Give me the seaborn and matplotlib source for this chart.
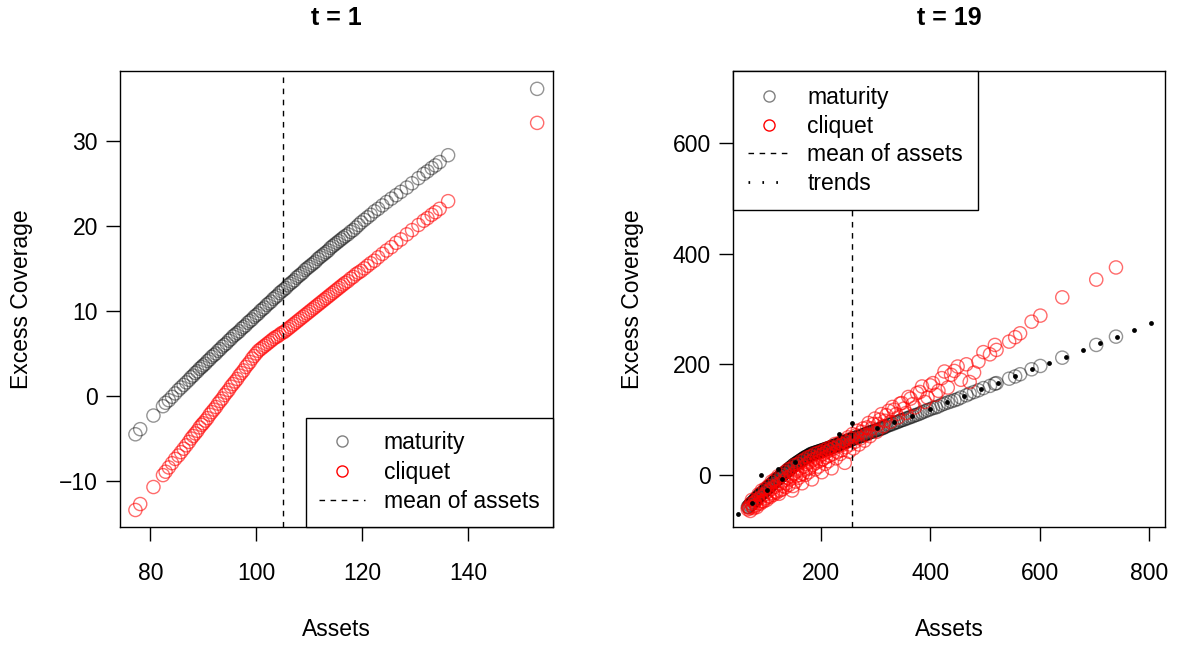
import matplotlib
matplotlib.use("Agg")
import matplotlib.pyplot as plt
from matplotlib.lines import Line2D
import seaborn as sns

# ---- t = 1 : assets and excess coverage ----
assets_t1 = [77.2, 78.1, 80.6, 82.4, 82.9, 83.5, 84.1, 84.7, 85.3, 85.8,
             86.3, 86.8, 87.3, 87.7, 88.1, 88.5, 88.9, 89.3, 89.7,
             90.0, 90.4, 90.8, 91.2, 91.6, 92.0, 92.4, 92.8, 93.2, 93.6,
             94.0, 94.4, 94.8, 95.2, 95.6, 96.0, 96.4, 96.8, 97.2, 97.6,
             98.0, 98.4, 98.8, 99.2, 99.6, 100.0, 100.4, 100.8, 101.2, 101.6,
             102.0, 102.4, 102.8, 103.2, 103.6, 104.0, 104.4, 104.8, 105.2, 105.6,
             106.0, 106.4, 106.8, 107.2, 107.6, 108.0, 108.4, 108.8, 109.2, 109.6,
             110.0, 110.4, 110.8, 111.2, 111.6, 112.0, 112.4, 112.8, 113.2, 113.6,
             114.0, 114.4, 114.8, 115.2, 115.6, 116.0, 116.4, 116.8,
             117.3, 117.8, 118.3, 118.8, 119.3, 119.8, 120.4, 121.0, 121.6, 122.3,
             123.0, 123.8, 124.6, 125.5, 126.4, 127.3, 128.4, 129.4, 130.6, 131.6,
             132.3, 133.1, 133.8, 134.6, 136.2, 153.0]
maturity_t1 = [-4.5, -3.9, -2.3, -1.2, -0.8, -0.5, -0.1, 0.3, 0.7, 1.0,
               1.3, 1.6, 1.9, 2.2, 2.4, 2.7, 2.9, 3.2, 3.4,
               3.6, 3.8, 4.1, 4.3, 4.6, 4.8, 5.0, 5.3, 5.5, 5.8,
               6.0, 6.2, 6.5, 6.7, 7.0, 7.2, 7.4, 7.6, 7.9, 8.1,
               8.3, 8.6, 8.8, 9.0, 9.3, 9.5, 9.7, 10.0, 10.2, 10.4,
               10.7, 10.9, 11.1, 11.4, 11.6, 11.8, 12.1, 12.3, 12.5, 12.7,
               13.0, 13.2, 13.4, 13.6, 13.9, 14.1, 14.3, 14.5, 14.8, 15.0,
               15.2, 15.4, 15.6, 15.8, 16.1, 16.3, 16.5, 16.7, 16.9, 17.1,
               17.4, 17.6, 17.8, 18.0, 18.2, 18.4, 18.6, 18.8,
               19.0, 19.3, 19.5, 19.8, 20.1, 20.4, 20.7, 21.0, 21.3, 21.7,
               22.0, 22.4, 22.8, 23.2, 23.6, 24.0, 24.5, 25.0, 25.6, 26.1,
               26.4, 26.8, 27.1, 27.5, 28.3, 36.1]
cliquet_t1 = [-13.4, -12.7, -10.7, -9.3, -8.9, -8.4, -7.9, -7.4, -7.0, -6.6,
              -6.2, -5.8, -5.4, -5.0, -4.7, -4.4, -4.1, -3.7, -3.4,
              -3.2, -2.9, -2.6, -2.2, -1.9, -1.6, -1.3, -0.9, -0.6, -0.3,
              0.1, 0.4, 0.7, 1.1, 1.4, 1.7, 2.0, 2.4, 2.7, 3.0,
              3.4, 3.7, 4.0, 4.4, 4.7, 5.0, 5.3, 5.5, 5.7, 5.9,
              6.1, 6.3, 6.5, 6.7, 6.9, 7.0, 7.2, 7.4, 7.5, 7.7,
              7.9, 8.1, 8.3, 8.5, 8.7, 8.9, 9.1, 9.3, 9.5, 9.7,
              9.9, 10.1, 10.3, 10.5, 10.7, 10.9, 11.1, 11.3, 11.5, 11.7,
              11.9, 12.1, 12.3, 12.5, 12.7, 12.9, 13.1, 13.3,
              13.5, 13.8, 14.0, 14.3, 14.5, 14.7, 15.0, 15.3, 15.6, 15.9,
              16.3, 16.7, 17.1, 17.5, 18.0, 18.4, 19.0, 19.5, 20.1, 20.6,
              20.9, 21.3, 21.6, 22.0, 22.9, 32.1]
mean_assets_t1 = 105.1

# ---- t = 19 ----
assets_t19 = [67, 70, 73, 76, 79, 82, 85, 88, 91, 94,
              97, 100, 103, 106, 109, 112, 115, 118, 121, 124,
              127, 130, 133, 136, 139, 142, 145, 148, 151, 154,
              157, 160, 163, 166, 169, 172, 175, 178, 181, 184,
              187, 190, 193, 196, 199, 202, 205, 208, 211, 214,
              217, 220, 224, 228, 232, 236, 240, 244, 248, 252,
              256, 260, 265, 270, 275, 280, 285, 290, 296, 302,
              308, 314, 320, 327, 334, 341, 348, 356, 364, 372,
              381, 390, 400, 410, 421, 432, 438, 444, 450, 456,
              466, 472, 480, 488, 497, 509, 518, 521, 544, 555,
              564, 585, 601, 641, 703, 739,
              68.5, 71.5, 74.5, 77.5, 80.5, 83.5, 86.5, 89.5, 92.5, 95.5,
              98.5, 101.5, 104.5, 107.5, 110.5, 113.5, 116.5, 119.5, 122.5, 125.5,
              128.5, 131.5, 134.5, 137.5, 140.5, 143.5, 146.5, 149.5, 152.5, 155.5,
              158.5, 161.5, 164.5, 167.5, 170.5, 173.5, 176.5, 179.5, 182.5, 185.5,
              188.5, 191.5, 194.5, 197.5, 200.5, 203.5, 206.5, 209.5, 212.5, 215.5,
              218.5, 222, 226, 230, 234, 238, 242, 246, 250, 254,
              258, 262.5, 267.5, 272.5, 277.5, 282.5, 287.5, 293, 299, 305,
              311, 317, 324, 331, 338, 345, 352, 360, 368, 376,
              385, 395, 405, 415, 426]
maturity_t19 = [-58, -55, -52, -49, -46, -43, -40, -37, -34, -32,
                -29, -26, -23, -21, -18, -15, -13, -10, -7, -5,
                -2, 0, 3, 5, 8, 10, 13, 15, 18, 20,
                22, 24, 26, 28, 30, 32, 33, 35, 37, 38,
                39, 40, 41, 42, 43, 44, 45, 46, 47, 48,
                49, 51, 52, 54, 55, 57, 58, 60, 61, 63,
                64, 66, 68, 69, 71, 73, 75, 77, 79, 81,
                83, 85, 88, 91, 94, 96, 99, 102, 105, 108,
                111, 115, 119, 122, 127, 131, 133, 135, 137, 140,
                144, 147, 150, 153, 157, 161, 165, 166, 174, 178,
                182, 191, 197, 212, 235, 250,
                -57, -54, -51, -48, -45, -42, -39, -36, -33, -31,
                -28, -25, -22, -20, -17, -14, -12, -9, -6, -4,
                -1, 2, 4, 7, 9, 12, 14, 17, 19, 21,
                23, 25, 27, 29, 31, 33, 34, 36, 38, 39,
                40, 41, 42, 43, 44, 45, 46, 47, 48, 49,
                50, 52, 53, 54, 56, 58, 59, 61, 62, 64,
                65, 67, 69, 70, 72, 74, 76, 78, 80, 82,
                84, 87, 90, 92, 95, 98, 100, 103, 106, 109,
                113, 117, 121, 124, 129]
cliquet_t19 = [-62, -60, -52, -57, -50, -55, -44, -50, -40, -47,
               -36, -42, -30, -38, -26, -33, -22, -30, -18, -34,
               -15, -26, -10, -22, -5, -18, -2, -28, 2, -12,
               8, -5, 12, -15, 15, 0, 20, 5, 24, -8,
               28, 10, 30, 15, 35, 5, 38, 20, 42, 25,
               45, 12, 48, 30, 52, 38, 55, 22, 60, 42,
               66, 48, 72, 55, 78, 62, 86, 70, 92, 78,
               100, 88, 108, 96, 118, 104, 130, 112, 138, 122,
               150, 132, 162, 145, 175, 158, 181, 188, 196, 172,
               200, 168, 185, 205, 222, 218, 235, 226, 241, 249,
               256, 277, 288, 321, 353, 375,
               -58, -65, -45, -60, -48, -58, -35, -52, -28, -48,
               -25, -45, -20, -40, -12, -36, -8, -32, -2, -28,
               0, -20, 5, -15, 10, -8, 12, -20, 18, -2,
               20, 0, 25, 2, 28, 10, 32, 12, 34, 18,
               38, 22, 40, 25, 42, 28, 45, 32, 48, 35,
               50, 38, 56, 42, 58, 45, 62, 50, 68, 55,
               74, 60, 80, 66, 84, 72, 94, 84, 102, 92,
               110, 98, 116, 123, 110, 129, 120, 141, 128, 148,
               160, 140, 166, 152, 187]
trend_x_t19 = [50, 75, 90.5, 102.6, 121.5, 128.8, 153, 233, 258, 302,
               334, 367, 399.5, 431, 462, 493.5, 524, 555, 586.5, 617.5,
               648, 679, 710, 740.5, 772, 803]
trend_y_t19 = [-70, -50, -0.5, -28, 11.4, -7.8, 23.5, 74, 94.5, 84,
               96, 107, 119, 131, 143, 155, 167, 179, 191, 202,
               214, 226, 238, 250, 262, 274.6]
mean_assets_t19 = 257

sns.set_theme(style="ticks")
plt.rcParams['font.family'] = ['Liberation Sans', 'DejaVu Sans']
plt.rcParams.update({'text.color': 'black', 'axes.labelcolor': 'black',
                     'xtick.color': 'black', 'ytick.color': 'black'})
FS = 16.5

fig = plt.figure(figsize=(11.84, 6.46), dpi=100)
ax1 = fig.add_axes([0.1014, 0.1842, 0.3657, 0.7059])
ax2 = fig.add_axes([0.6191, 0.1842, 0.3649, 0.7059])

DASH = (0, (4, 4))


def draw_points(ax, assets, maturity, cliquet):
    sns.scatterplot(x=assets, y=maturity, ax=ax, marker='o', s=90,
                    facecolor='none', edgecolor=(0, 0, 0, 0.42), linewidth=1.0)
    sns.scatterplot(x=assets, y=cliquet, ax=ax, marker='o', s=90,
                    facecolor='none', edgecolor=(1, 0, 0, 0.58), linewidth=1.0)


def style_axes(ax, title, xticks, yticks, xlim, ylim):
    ax.set_xlim(*xlim)
    ax.set_ylim(*ylim)
    ax.set_xticks(xticks)
    ax.set_yticks(yticks)
    ax.set_title(title, fontsize=18, fontweight='bold', pad=33, color='black')
    ax.set_xlabel('Assets', fontsize=FS)
    ax.set_ylabel('Excess Coverage', fontsize=FS)
    ax.tick_params(axis='both', direction='out', length=10, width=1,
                   labelsize=FS, bottom=True, left=True)
    ax.tick_params(axis='x', pad=15)
    ax.tick_params(axis='y', pad=6)
    for sp in ax.spines.values():
        sp.set_visible(True)
        sp.set_color('black')
        sp.set_linewidth(1)
    ax.grid(False)


# Panel 1
draw_points(ax1, assets_t1, maturity_t1, cliquet_t1)
ax1.axvline(mean_assets_t1, color='black', lw=1, ls=DASH)
style_axes(ax1, 't = 1', [80, 100, 120, 140], [-10, 0, 10, 20, 30],
           (74.3, 156.0), (-15.4, 38.2))
ax1.xaxis.set_label_coords(0.5, -0.2)
ax1.yaxis.set_label_coords(-0.2, 0.5)

# Panel 2
draw_points(ax2, assets_t19, maturity_t19, cliquet_t19)
sns.scatterplot(x=trend_x_t19, y=trend_y_t19, ax=ax2, marker='o', s=12,
                color='black', linewidth=0)
ax2.axvline(mean_assets_t19, color='black', lw=1, ls=DASH)
style_axes(ax2, 't = 19', [200, 400, 600, 800], [0, 200, 400, 600],
           (40, 828.6), (-94, 730))
ax2.xaxis.set_label_coords(0.5, -0.2)
ax2.yaxis.set_label_coords(-0.205, 0.5)

h_mat = Line2D([], [], ls='none', marker='o', markersize=8, mfc='none',
               mec=(0.5, 0.5, 0.5), mew=1)
h_cli = Line2D([], [], ls='none', marker='o', markersize=8, mfc='none',
               mec='red', mew=1)
h_mean = Line2D([], [], color='black', lw=1, ls=DASH)
h_trend = Line2D([], [], color='black', lw=2, ls=(0, (0.6, 4.4)))

leg1 = ax1.legend([h_mat, h_cli, h_mean], ['maturity', 'cliquet', 'mean of assets'],
                  loc='lower right', bbox_to_anchor=(1, 0), borderaxespad=0,
                  frameon=True, fancybox=False, edgecolor='black', framealpha=1,
                  fontsize=FS, handlelength=2.0, handletextpad=0.8,
                  borderpad=0.6, labelspacing=0.28)
leg1.get_frame().set_linewidth(1)

leg2 = ax2.legend([h_mat, h_cli, h_mean, h_trend],
                  ['maturity', 'cliquet', 'mean of assets', 'trends'],
                  loc='upper left', bbox_to_anchor=(0, 1), borderaxespad=0,
                  frameon=True, fancybox=False, edgecolor='black', framealpha=1,
                  fontsize=FS, handlelength=1.8, handletextpad=0.8,
                  borderpad=0.65, labelspacing=0.25)
leg2.get_frame().set_linewidth(1)

fig.savefig('out.png', dpi=100)
